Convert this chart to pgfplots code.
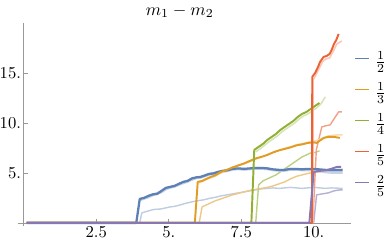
\documentclass[border=0pt]{standalone}
\usepackage{pgfplots}
\pgfplotsset{compat=1.18}
\definecolor{mB}{HTML}{5E81B5}
\definecolor{mO}{HTML}{E19C24}
\definecolor{mG}{HTML}{8FB032}
\definecolor{mR}{HTML}{EB6235}
\definecolor{mP}{HTML}{8778B3}
\definecolor{axgray}{HTML}{999999}
\begin{document}
\begin{tikzpicture}
\useasboundingbox (-10.28pt,-13.13pt) rectangle (209.6pt,129.0pt);
\begin{axis}[
  at={(0,0)}, anchor=south west,
  scale only axis, width=190.4pt, height=115.9pt,
  xmin=-0.2, xmax=11.3, ymin=-0.3, ymax=20,
  axis lines=middle,
  axis line style={axgray, -},
  every inner x axis line/.append style={-},
  every inner y axis line/.append style={-},
  xtick={2.5,5,7.5,10}, xticklabels={2.5,5.,7.5,10.},
  ytick={5,10,15}, yticklabels={5.,10.,15.},
  tick align=inside, major tick length=2.3pt,
  tick style={axgray, thin},
  ticklabel style={font=\fontsize{9.5}{11}\selectfont},
  xticklabel style={anchor=north, inner sep=1pt, yshift=-1pt},
  yticklabel style={anchor=east, inner sep=0.8pt, xshift=-0.6pt},
  title={$m_1 - m_2$},
  title style={at={(axis description cs:0.485,1)}, anchor=south, yshift=-6.5pt},
  clip=false,
  legend style={at={(axis description cs:1.0105,0.857)}, anchor=north west,
    draw=none, fill=none, inner sep=0pt, outer sep=0pt,
    row sep=5.7pt, column sep=2.9pt,
    nodes={inner sep=0pt, text height=8.5pt, text depth=3.5pt}},
  legend cell align=left,
  legend image code/.code={\draw[#1, line width=0.6pt] (0pt,2.5pt) -- (8pt,2.5pt);},
  line join=round,
]
% ---------- faint lower lines ----------
\addplot[forget plot, mB!40!white, line width=0.8pt] coordinates {
(4.0,0) (4.07,1.0) (4.3,1.2) (4.5,1.35) (4.7,1.38) (4.9,1.5) (5.05,1.6) (5.2,1.65) (5.4,1.8) (5.6,1.97) (5.8,2.1) (6.0,2.22) (6.2,2.3) (6.4,2.45) (6.6,2.55) (6.8,2.7) (7.0,2.8) (7.2,2.9) (7.4,3.0) (7.6,3.1) (7.8,3.2) (8.0,3.3) (8.2,3.4) (8.4,3.45) (8.6,3.5) (8.8,3.45) (9.0,3.5) (9.2,3.55) (9.4,3.5) (9.6,3.45) (9.8,3.5) (10.0,3.55) (10.2,3.5) (10.4,3.45) (10.6,3.5) (11.0,3.45)};
\addplot[forget plot, mO!55!white, line width=0.8pt] coordinates {
(6.05,0) (6.15,1.6) (6.3,1.8) (6.45,2.0) (6.6,2.2) (6.8,2.4) (7.0,2.6) (7.2,2.8) (7.4,2.95) (7.6,3.1) (7.8,3.25) (8.0,3.35) (8.2,3.45) (8.4,3.55) (8.6,3.7) (8.8,3.9) (9.0,4.1) (9.2,4.4) (9.4,4.65) (9.6,4.8) (9.8,4.95) (10.0,5.05) (10.2,5.1) (10.4,5.2) (10.6,5.3) (11.0,5.35)};
\addplot[forget plot, mG!60!white, line width=0.8pt] coordinates {
(8.0,0) (8.1,3.8) (8.25,4.2) (8.4,4.4) (8.55,4.6) (8.7,4.8) (8.85,5.1) (9.0,5.4) (9.15,5.7) (9.3,6.0) (9.45,6.3) (9.6,6.6) (9.75,6.8) (9.9,7.0) (10.05,7.05) (10.2,7.2)};
\addplot[forget plot, mR!60!white, line width=0.8pt] coordinates {
(9.97,0) (10.09,7.3) (10.28,9.6) (10.4,9.7) (10.57,9.8) (10.7,10.4) (10.86,11.1) (10.97,11.1)};
\addplot[forget plot, mP!60!white, line width=0.8pt] coordinates {
(10.0,0) (10.1,2.8) (10.3,2.9) (10.5,3.0) (10.7,3.2) (10.9,3.3) (11.0,3.3)};
% ---------- faint companions ----------
\addplot[forget plot, mB!35!white, line width=1.6pt] coordinates {
(4.0,2.3) (4.15,2.45) (4.3,2.6) (4.45,2.8) (4.6,2.95) (4.75,3.1) (4.9,3.4) (5.05,3.55) (5.2,3.65) (5.35,3.85) (5.5,4.0) (5.65,4.15) (5.8,4.35) (5.95,4.5) (6.1,4.55) (6.25,4.7) (6.4,4.85) (6.55,4.95) (6.7,5.05) (6.85,5.15) (7.0,5.2) (7.2,5.35) (7.4,5.4) (7.6,5.35) (7.8,5.4) (8.0,5.45) (8.2,5.45) (8.4,5.4) (8.6,5.3) (8.8,5.25) (9.0,5.25) (9.2,5.35) (9.4,5.35) (9.6,5.3) (9.8,5.3) (10.0,5.3) (10.2,5.2) (10.4,5.1) (10.6,5.05) (11.0,5.05)};
\addplot[forget plot, mO!35!white, line width=0.9pt] coordinates {
(6.05,4.0) (6.2,4.2) (6.35,4.4) (6.5,4.55) (6.65,4.75) (6.85,5.05) (7.05,5.3) (7.25,5.55) (7.45,5.75) (7.65,5.95) (7.85,6.2) (8.05,6.45) (8.25,6.65) (8.45,6.85) (8.65,7.1) (8.85,7.3) (9.05,7.5) (9.25,7.65) (9.45,7.85) (9.65,7.95) (9.85,8.1) (10.05,8.2) (10.25,8.4) (10.5,8.7) (10.8,8.8) (11.0,8.8)};
\addplot[forget plot, mG!35!white, line width=0.9pt] coordinates {
(8.0,7.1) (8.15,7.4) (8.3,7.75) (8.45,8.1) (8.6,8.4) (8.75,8.7) (8.9,9.1) (9.05,9.4) (9.2,9.7) (9.35,10.0) (9.5,10.4) (9.65,10.7) (9.8,10.9) (9.95,11.2) (10.1,11.5) (10.25,11.9) (10.4,12.6)};
\addplot[forget plot, mR!35!white, line width=0.9pt] coordinates {
(9.97,0) (9.98,14.3) (10.08,14.8) (10.2,15.5) (10.3,16.1) (10.42,16.4) (10.55,16.5) (10.68,17.2) (10.8,17.9) (10.97,18.2)};
% ---------- main thick lines ----------
\addplot[mB, line width=1.3pt] coordinates {
(0.1,0) (3.88,0) (4.0,2.4) (4.15,2.5) (4.3,2.7) (4.45,2.85) (4.6,2.9) (4.75,3.2) (4.9,3.5) (5.05,3.6) (5.2,3.7) (5.35,3.9) (5.5,4.1) (5.65,4.2) (5.8,4.45) (5.95,4.55) (6.1,4.6) (6.25,4.75) (6.4,4.9) (6.55,4.95) (6.7,5.1) (6.85,5.2) (7.0,5.25) (7.2,5.4) (7.4,5.45) (7.6,5.4) (7.8,5.45) (8.0,5.5) (8.2,5.5) (8.4,5.45) (8.6,5.35) (8.8,5.3) (9.0,5.3) (9.2,5.4) (9.4,5.4) (9.6,5.35) (9.8,5.4) (10.0,5.4) (10.2,5.35) (10.4,5.3) (10.6,5.3) (11.0,5.3)};
\addlegendentry{$\frac{1}{2}$}
\addplot[mO, line width=1.1pt] coordinates {
(0.1,0) (5.9,0) (6.0,4.1) (6.15,4.2) (6.3,4.4) (6.45,4.6) (6.6,4.75) (6.8,5.1) (7.0,5.3) (7.2,5.55) (7.4,5.75) (7.6,5.95) (7.8,6.2) (8.0,6.45) (8.2,6.6) (8.4,6.8) (8.6,7.05) (8.8,7.25) (9.0,7.4) (9.2,7.55) (9.4,7.75) (9.6,7.85) (9.8,8.0) (10.0,8.05) (10.1,8.0) (10.2,8.2) (10.35,8.5) (10.5,8.6) (10.7,8.6) (10.9,8.5)};
\addlegendentry{$\frac{1}{3}$}
\addplot[mG, line width=1.1pt] coordinates {
(0.1,0) (7.85,0) (7.95,7.3) (8.1,7.6) (8.25,7.9) (8.4,8.3) (8.55,8.6) (8.7,8.9) (8.85,9.3) (9.0,9.6) (9.15,9.9) (9.3,10.2) (9.45,10.6) (9.6,10.9) (9.75,11.1) (9.9,11.4) (10.05,11.7) (10.2,12.0)};
\addlegendentry{$\frac{1}{4}$}
\addplot[mR, line width=1.1pt] coordinates {
(0.1,0) (9.94,0) (9.95,14.6) (10.05,15.0) (10.15,15.6) (10.22,16.1) (10.34,16.6) (10.45,16.7) (10.55,16.9) (10.62,17.3) (10.7,17.9) (10.78,18.3) (10.86,18.9)};
\addlegendentry{$\frac{1}{5}$}
\addplot[mP, line width=1.1pt] coordinates {
(0.1,0) (9.85,0) (10.0,5.1) (10.2,5.2) (10.4,5.25) (10.6,5.4) (10.8,5.6) (10.95,5.6)};
\addlegendentry{$\frac{2}{5}$}
\end{axis}
\end{tikzpicture}
\end{document}
